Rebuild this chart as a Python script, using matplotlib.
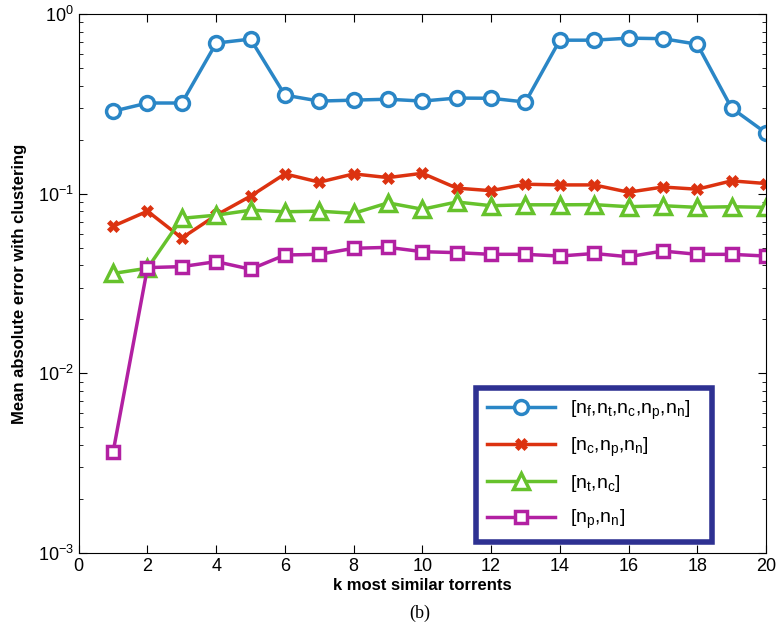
import numpy as np
import matplotlib
matplotlib.use("Agg")
import matplotlib.pyplot as plt

plt.rcParams['font.family'] = ['Liberation Sans', 'DejaVu Sans']
plt.rcParams['mathtext.default'] = 'regular'

k = np.arange(1, 21)

err_all = [0.288, 0.32, 0.32, 0.69, 0.726, 0.354, 0.328, 0.332, 0.336, 0.328,
           0.341, 0.34, 0.324, 0.716, 0.716, 0.735, 0.73, 0.68, 0.30, 0.218]
err_cpn = [0.066, 0.080, 0.0567, 0.076, 0.097, 0.129, 0.116, 0.129, 0.123, 0.130,
           0.1075, 0.104, 0.113, 0.112, 0.112, 0.102, 0.109, 0.106, 0.118, 0.114]
err_tc = [0.036, 0.0385, 0.073, 0.076, 0.081, 0.0794, 0.080, 0.0778, 0.089, 0.082,
          0.090, 0.0858, 0.0868, 0.0868, 0.087, 0.0847, 0.0858, 0.084, 0.0847, 0.084]
err_pn = [0.00366, 0.0388, 0.0393, 0.0419, 0.038, 0.0456, 0.046, 0.0497, 0.0503, 0.0476,
          0.047, 0.046, 0.046, 0.045, 0.0465, 0.0446, 0.048, 0.046, 0.046, 0.045]

labels = ['[n$_f$,n$_t$,n$_c$,n$_p$,n$_n$]',
          '[n$_c$,n$_p$,n$_n$]',
          '[n$_t$,n$_c$]',
          '[n$_p$,n$_n$]']

fig = plt.figure(figsize=(7.8, 6.42), dpi=100)
ax = fig.add_axes([0.101, 0.1386, 0.881, 0.8394])

ax.plot(k, err_all, color='#2a86c6', lw=2.5, marker='o', ms=10, mfc='white',
        mew=2.5, label=labels[0])
ax.plot(k, err_cpn, color='#dc3210', lw=2.5, marker='X', ms=8,
        mew=0.5, label=labels[1])
ax.plot(k, err_tc, color='#66c22c', lw=2.5, marker='^', ms=11, mfc='white',
        mew=2.5, label=labels[2])
ax.plot(k, err_pn, color='#b220a2', lw=2.5, marker='s', ms=9, mfc='white',
        mew=2.5, label=labels[3])

ax.set_yscale('log')
ax.set_xlim(0, 20)
ax.set_ylim(1e-3, 1)
ax.set_xticks(np.arange(0, 21, 2))
ax.tick_params(which='both', direction='in', top=True, right=True, labelsize=13)
ax.tick_params(which='major', length=6)
ax.tick_params(which='minor', length=3)
ax.set_xlabel('k most similar torrents', fontsize=12, fontweight='bold', labelpad=2)
ax.set_ylabel('Mean absolute error with clustering', fontsize=12, fontweight='bold',
              labelpad=8)

leg = ax.legend(loc='lower left', bbox_to_anchor=(0.578, 0.0204, 0.343, 0.284),
                mode='expand', fontsize=14, handlelength=3.5, labelspacing=0.72,
                fancybox=False, borderpad=0.55, borderaxespad=0, framealpha=1)
leg.get_frame().set_edgecolor('#2e3192')
leg.get_frame().set_linewidth(4)

fig.text(0.538, 0.038, '(b)', ha='center', fontsize=13, family='Liberation Serif')

fig.savefig('out.png', dpi=100)
